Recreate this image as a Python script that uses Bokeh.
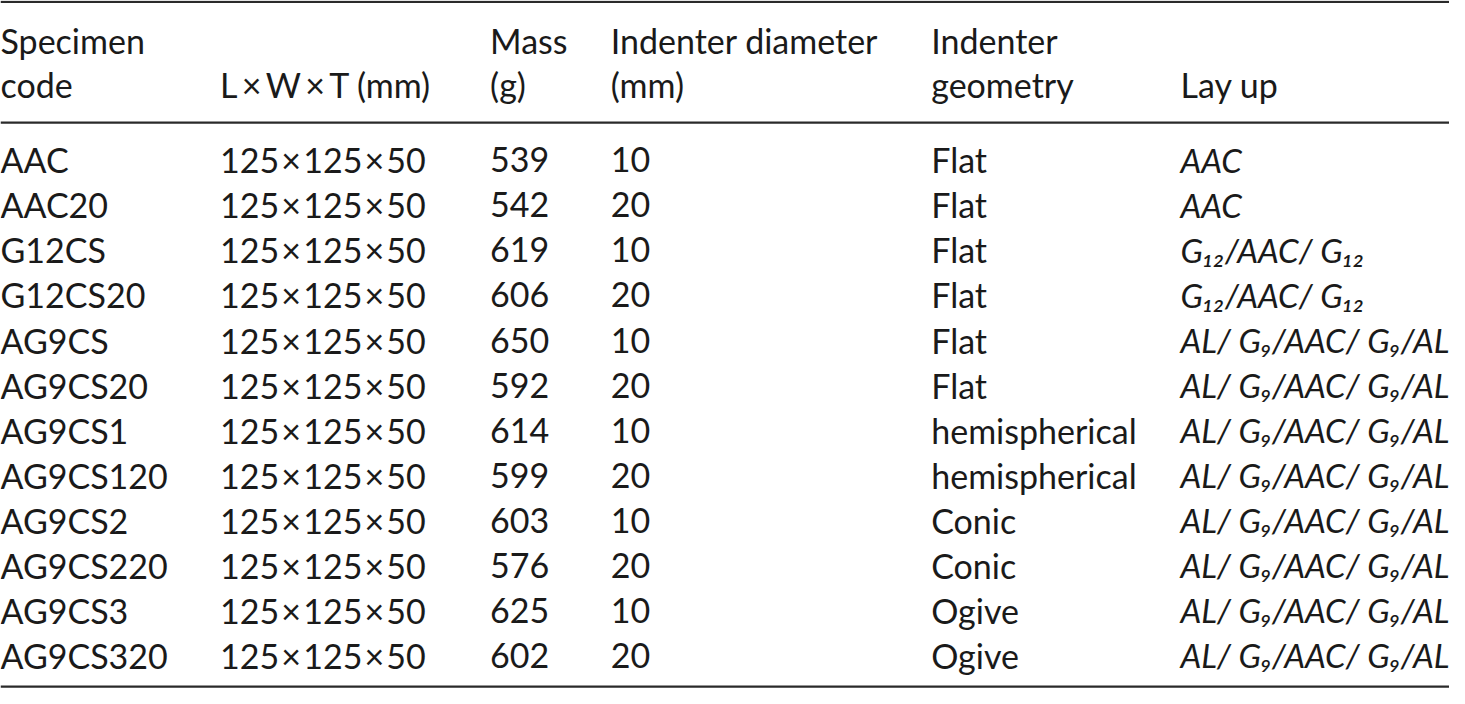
from bokeh.plotting import figure
from bokeh.models import Range1d, ColumnDataSource
from bokeh.core.properties import value
from bokeh.embed import file_html
from bokeh.resources import INLINE

# ---- table data ----
header_top = ["Specimen", "", "Mass", "Indenter diameter", "Indenter", ""]
header_bottom = ["code", "L\u00d7W\u00d7T (mm)", "(g)", "(mm)", "geometry", "Lay up"]
codes = ["AAC", "AAC20", "G12CS", "G12CS20", "AG9CS", "AG9CS20", "AG9CS1",
         "AG9CS120", "AG9CS2", "AG9CS220", "AG9CS3", "AG9CS320"]
dims = ["125\u00d7125\u00d750"] * 12
mass = [539, 542, 619, 606, 650, 592, 614, 599, 603, 576, 625, 602]
diameter = [10, 20, 10, 20, 10, 20, 10, 20, 10, 20, 10, 20]
geometry = ["Flat", "Flat", "Flat", "Flat", "Flat", "Flat",
            "hemispherical", "hemispherical", "Conic", "Conic", "Ogive", "Ogive"]
layup = ["AAC", "AAC",
         "G\u2081\u2082/AAC/ G\u2081\u2082", "G\u2081\u2082/AAC/ G\u2081\u2082"] + \
        ["AL/ G\u2089/AAC/ G\u2089/AL"] * 8

# ---- layout (reference pixel space) ----
W_REF, H_REF = 1465, 704
col_x = [0, 222, 495, 617, 941, 1193]
BASE_FIX = -14          # renderer places baseline lower than requested
head_y = [55 + BASE_FIX, 100 + BASE_FIX]
row_y0, row_dy = 177 + BASE_FIX, 46.1
rules = [(1.5, 2.2), (125, 2.2), (702, 2.2)]

FONT = "Lato"
FS = "34px"
FS_LAY = "33px"
COLOR = "#1a1a1a"


def spaced(s, sp):
    return s.replace("\u00d7", sp + "\u00d7" + sp)


p = figure(width=1449, height=688, output_backend="svg", toolbar_location=None,
           x_range=Range1d(0, W_REF), y_range=Range1d(H_REF, 0),
           x_axis_type=None, y_axis_type=None, min_border=0)
p.grid.visible = False
p.outline_line_color = None
p.background_fill_color = "white"
p.border_fill_color = "white"

# rules
for y, w in rules:
    p.line(x=[0, W_REF], y=[y, y], line_color="#2a2a2a", line_width=w)

# headers
hx, hy, ht = [], [], []
for i in range(6):
    if header_top[i]:
        hx.append(col_x[i]); hy.append(head_y[0]); ht.append(header_top[i])
    hx.append(col_x[i]); hy.append(head_y[1]); ht.append(spaced(header_bottom[i], "\u2009"))
p.text(x=hx, y=hy, text=ht, text_font=value(FONT), text_font_size=FS,
       text_color=COLOR, text_align="left", text_baseline="alphabetic")

# body
ys = [row_y0 + row_dy * i for i in range(len(codes))]
columns = [codes, [spaced(d, "\u200a") for d in dims],
           [str(m) for m in mass], [str(d) for d in diameter], geometry]
for ci, col in enumerate(columns):
    src = ColumnDataSource(dict(x=[col_x[ci]] * len(col), y=ys, t=col))
    p.text(x="x", y="y", text="t", source=src, text_font=value(FONT),
           text_font_size=FS, text_color=COLOR, text_align="left",
           text_baseline="alphabetic")

src = ColumnDataSource(dict(x=[col_x[5]] * len(layup), y=ys, t=layup))
p.text(x="x", y="y", text="t", source=src, text_font=value(FONT),
       text_font_size=FS_LAY, text_font_style="italic", text_color=COLOR,
       text_align="left", text_baseline="alphabetic")

open("out.html", "w").write(file_html(p, INLINE))
